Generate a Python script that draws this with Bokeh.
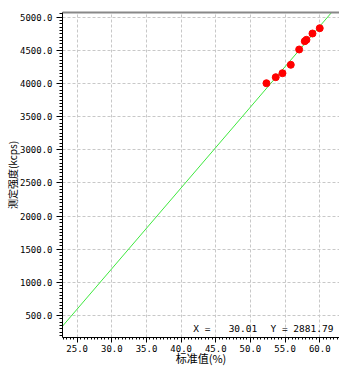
from bokeh.plotting import figure
from bokeh.models import (ColumnDataSource, Range1d, LinearAxis, SingleIntervalTicker,
                          FixedTicker, PrintfTickFormatter, Label, Grid)
from bokeh.embed import file_html
from bokeh.resources import INLINE

# ---- data ----
std_value = [52.31, 53.65, 54.62, 55.82, 57.03, 57.84, 58.08, 58.95, 60.00]
intensity = [4004, 4095, 4155, 4282, 4513, 4638, 4659, 4754, 4834]
fit_x = [22.9, 63.0]
fit_y = [341, 5229]
x_title = "标准值(%)"
y_title = "测定强度(kcps)"
cursor_x = "30.01"
cursor_y = "2881.79"

X0, X1 = 22.88, 62.85
Y0, Y1 = 168, 5071

p = figure(width=339, height=368, output_backend="svg", toolbar_location=None,
           x_range=Range1d(X0, X1), y_range=Range1d(Y0, Y1),
           min_border_left=62, min_border_right=0, min_border_top=12, min_border_bottom=31,
           x_axis_type=None, y_axis_type=None)
p.outline_line_color = None
p.background_fill_color = "white"
p.border_fill_color = "white"

mono = "DejaVu Sans Mono"
cjk = "Noto Sans CJK SC"

xax = LinearAxis(ticker=SingleIntervalTicker(interval=5, num_minor_ticks=10),
                 formatter=PrintfTickFormatter(format="%.1f"), axis_label=x_title)
xax.axis_line_color = "black"
xax.major_tick_line_color = "black"
xax.minor_tick_line_color = "black"
xax.major_tick_out = 5
xax.major_tick_in = 0
xax.minor_tick_out = 2
xax.minor_tick_in = 0
xax.major_label_standoff = 2
xax.major_label_text_font = mono
xax.major_label_text_font_size = "9px"
xax.major_label_text_color = "black"
xax.axis_label_standoff = -5
xax.axis_label_text_font = cjk
xax.axis_label_text_font_size = "11px"
xax.axis_label_text_font_style = "normal"
xax.axis_label_text_color = "black"
p.add_layout(xax, "below")

yax = LinearAxis(ticker=SingleIntervalTicker(interval=500, num_minor_ticks=10),
                 formatter=PrintfTickFormatter(format="%.1f"), axis_label=y_title)
yax.axis_line_color = "black"
yax.major_tick_line_color = "black"
yax.minor_tick_line_color = "black"
yax.major_tick_out = 6
yax.major_tick_in = 0
yax.minor_tick_out = 3
yax.minor_tick_in = 0
yax.major_label_standoff = 4
yax.major_label_text_font = mono
yax.major_label_text_font_size = "9px"
yax.major_label_text_color = "black"
yax.axis_label_standoff = -3
yax.axis_label_text_font = cjk
yax.axis_label_text_font_size = "10px"
yax.axis_label_text_font_style = "normal"
yax.axis_label_text_color = "black"
p.add_layout(yax, "left")

top = LinearAxis(ticker=FixedTicker(ticks=[]))
top.axis_line_color = "#888888"
top.axis_line_width = 2
top.major_tick_out = 0
top.major_tick_in = 0
top.minor_tick_out = 0
top.minor_tick_in = 0
top.major_label_standoff = 0
top.major_label_text_font_size = "0px"
p.add_layout(top, "above")

gx = Grid(dimension=0, ticker=xax.ticker, grid_line_color="#c8c8c8", grid_line_dash="3 2")
gy = Grid(dimension=1, ticker=yax.ticker, grid_line_color="#c8c8c8", grid_line_dash="3 2")
p.add_layout(gx)
p.add_layout(gy)

p.line(fit_x, fit_y, line_color="#3ee83e", line_width=1)
src = ColumnDataSource(dict(x=std_value, y=intensity))
p.scatter("x", "y", source=src, size=7, fill_color="#ff0000", line_color="#ff0000")

# cursor readout
p.add_layout(Label(x=41.74, y=309, text="X =", text_font=mono, text_font_size="9.5px",
                   text_align="left", text_baseline="middle", text_color="black"))
p.add_layout(Label(x=50.98, y=309, text=cursor_x, text_font=mono, text_font_size="9.5px",
                   text_align="right", text_baseline="middle", text_color="black"))
p.add_layout(Label(x=52.89, y=309, text="Y = " + cursor_y, text_font=mono, text_font_size="9.5px",
                   text_align="left", text_baseline="middle", text_color="black"))

open("out.html", "w").write(file_html(p, INLINE))
